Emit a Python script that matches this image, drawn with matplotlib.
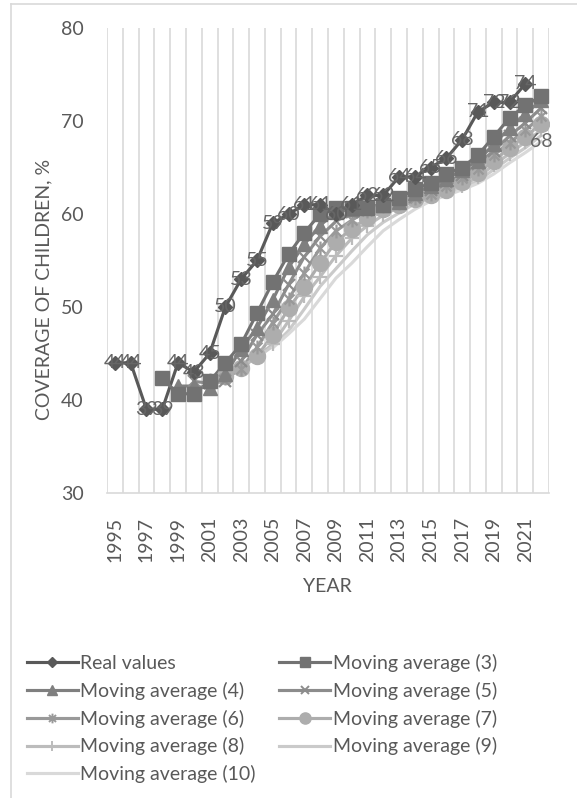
import matplotlib
matplotlib.use("Agg")
import matplotlib.pyplot as plt
from matplotlib.lines import Line2D
from matplotlib.path import Path
import numpy as np

plt.rcParams['font.family'] = ['Lato', 'DejaVu Sans']

# ---------------- data ----------------
years = list(range(1995, 2023))
real_values = [44, 44, 39, 39, 44, 43, 45, 50, 53, 55, 59, 60, 61, 61, 60,
               61, 62, 62, 64, 64, 65, 66, 68, 71, 72, 72, 74]
ma3 = [42.33, 40.67, 40.67, 42.00, 44.00, 46.00, 49.33, 52.67, 55.67, 58.00,
       60.00, 60.67, 60.67, 60.67, 61.00, 61.67, 62.67, 63.33, 64.33, 65.00,
       66.33, 68.33, 70.33, 71.67, 72.67]
ma4 = [41.50, 41.50, 41.25, 42.75, 45.50, 47.75, 50.75, 54.25, 56.75, 58.75,
       60.25, 60.50, 60.75, 61.00, 61.25, 62.25, 63.00, 63.75, 64.75, 65.75,
       67.50, 69.25, 70.75, 72.25]
ma5 = [42.00, 41.80, 42.00, 44.20, 47.00, 49.20, 52.40, 55.40, 57.60, 59.20,
       60.20, 60.60, 61.00, 61.20, 61.80, 62.60, 63.40, 64.20, 65.40, 66.80,
       68.40, 69.80, 71.40]
ma6 = [42.17, 42.33, 43.33, 45.67, 48.33, 50.83, 53.67, 56.33, 58.17, 59.33,
       60.33, 60.83, 61.17, 61.67, 62.17, 63.00, 63.83, 64.83, 66.33, 67.67,
       69.00, 70.50]
ma7 = [42.57, 43.43, 44.71, 47.00, 49.86, 52.14, 54.71, 57.00, 58.43, 59.57,
       60.57, 61.00, 61.57, 62.00, 62.57, 63.43, 64.43, 65.71, 67.14, 68.29,
       69.71]
ma8 = [43.50, 44.63, 46.00, 48.50, 51.13, 53.25, 55.50, 57.38, 58.75, 59.88,
       60.75, 61.38, 61.88, 62.38, 63.00, 64.00, 65.25, 66.50, 67.75, 69.00]
ma9 = [44.56, 45.78, 47.44, 49.78, 52.22, 54.11, 56.00, 57.78, 59.11, 60.11,
       61.11, 61.67, 62.22, 62.78, 63.56, 64.78, 66.00, 67.11, 68.44]
ma10 = [45.60, 47.10, 48.70, 50.90, 53.10, 54.70, 56.50, 58.20, 59.40, 60.50,
        61.40, 62.00, 62.60, 63.30, 64.30, 65.50, 66.60, 67.80]

series_names = ["Real values", "Moving average (3)", "Moving average (4)",
                "Moving average (5)", "Moving average (6)", "Moving average (7)",
                "Moving average (8)", "Moving average (9)", "Moving average (10)"]
series_values = [real_values, ma3, ma4, ma5, ma6, ma7, ma8, ma9, ma10]
series_windows = [0, 3, 4, 5, 6, 7, 8, 9, 10]

# ---------------- styles ----------------
star = Path([(0, -1), (0, 1), (-0.72, -0.72), (0.72, 0.72), (-0.72, 0.72), (0.72, -0.72)],
            [Path.MOVETO, Path.LINETO] * 3)
colors = ['#595959', '#727272', '#7f7f7f', '#8c8c8c', '#999999',
          '#adadad', '#bcbcbc', '#cacaca', '#d9d9d9']
markers = ['D', 's', '^', 'x', star, 'o', '+', None, None]
msizes = [7, 10.5, 10.5, 8.5, 10, 11.5, 10, 0, 0]
filled = [True, True, True, False, False, True, False, False, False]
lw = 2.25
text_color = '#595959'
grid_color = '#d9d9d9'

W, H = 577, 798
fig = plt.figure(figsize=(W / 100, H / 100), dpi=100)
ax = fig.add_axes([107 / W, 1 - 493 / H, 442 / W, 465 / H])

x_all = np.arange(len(years))

# lines first (all series), then markers, like the spreadsheet renderer
for k, (vals, n, c) in enumerate(zip(series_values, series_windows, colors)):
    xs = x_all[n:n + len(vals)]
    ax.plot(xs, vals, color=c, lw=lw, solid_joinstyle='round', zorder=2 + k * 0.01)
for k, (vals, n, c) in enumerate(zip(series_values, series_windows, colors)):
    if markers[k] is None:
        continue
    xs = x_all[n:n + len(vals)]
    if filled[k]:
        ax.plot(xs, vals, linestyle='none', marker=markers[k], ms=msizes[k],
                mfc=c, mec=c, mew=1, zorder=3 + (8 - k) * 0.01 if k else 3.5)
    else:
        ax.plot(xs, vals, linestyle='none', marker=markers[k], ms=msizes[k],
                mec=c, mew=1.6, zorder=3 + (8 - k) * 0.01)

# data labels
for xi, v in zip(x_all, real_values):
    ax.text(xi, v, f"{v:.0f}", ha='center', va='center', fontsize=14,
            color='#666666', zorder=5)
ax.text(x_all[10 + len(ma10) - 1], ma10[-1], f"{ma10[-1]:.0f}", ha='center',
        va='center', fontsize=14, color='#666666', zorder=5)

# axes
ax.set_xlim(-0.5, len(years) - 0.5)
ax.set_ylim(30, 80)
ax.set_yticks([30, 40, 50, 60, 70, 80])
ax.set_xticks(x_all[::2])
ax.set_xticklabels([str(y) for y in years[::2]], rotation=90)
ax.tick_params(axis='both', length=0, labelsize=14, labelcolor=text_color)
ax.tick_params(axis='y', pad=17)
ax.tick_params(axis='x', pad=17)
for s in ['left', 'right', 'top']:
    ax.spines[s].set_visible(False)
ax.spines['bottom'].set_color(grid_color)
ax.spines['bottom'].set_linewidth(1.2)
for b in np.arange(-0.5, len(years), 1.0):
    ax.axvline(b, color=grid_color, lw=1.2, zorder=1)

fig.text(327 / W, 1 - 587 / H, "YEAR", fontsize=14, color=text_color,
         ha='center', va='center')
fig.text(44 / W, 1 - 289 / H, "COVERAGE OF CHILDREN, %", fontsize=14,
         color=text_color, rotation=90, ha='center', va='center')

# legend
handles = []
for k in range(9):
    if markers[k] is None:
        h = Line2D([], [], color=colors[k], lw=lw)
    elif filled[k]:
        h = Line2D([], [], color=colors[k], lw=lw, marker=markers[k],
                   ms=msizes[k], mfc=colors[k], mec=colors[k], mew=1)
    else:
        h = Line2D([], [], color=colors[k], lw=lw, marker=markers[k],
                   ms=msizes[k], mec=colors[k], mew=1.4)
    handles.append(h)
order = [0, 2, 4, 6, 8, 1, 3, 5, 7]
leg = fig.legend([handles[i] for i in order], [series_names[i] for i in order],
                 ncol=2, loc='upper left', bbox_to_anchor=(27 / W, 1 - 654 / H),
                 frameon=False, fontsize=14, handlelength=2.6, handletextpad=0.15,
                 columnspacing=1.2, labelspacing=0.5, borderpad=0, borderaxespad=0,
                 markerscale=0.7, labelcolor=text_color)

# chart area border
fig.add_artist(Line2D([11 / W, 11 / W], [0, 1 - 4 / H], color=grid_color, lw=1.2,
                      transform=fig.transFigure))
fig.add_artist(Line2D([11 / W, 1], [1 - 4 / H, 1 - 4 / H], color=grid_color, lw=1.2,
                      transform=fig.transFigure))

fig.savefig("out.png", dpi=100)
